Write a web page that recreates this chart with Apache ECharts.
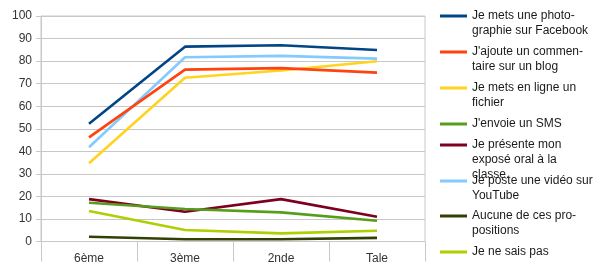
<!DOCTYPE html>
<html><head><meta charset="utf-8">
<script src="https://cdn.jsdelivr.net/npm/echarts@6/dist/echarts.min.js"></script>
<style>html,body{margin:0;padding:0;background:#fff}#c{width:600px;height:276px}</style>
</head><body><div id="c"></div>
<script>
const categories = ['6ème', '3ème', '2nde', 'Tale'];
const seriesNames = [
  'Je mets une photographie sur Facebook',
  'J\'ajoute un commentaire sur un blog',
  'Je mets en ligne un fichier',
  'J\'envoie un SMS',
  'Je présente mon exposé oral à la classe.',
  'Je poste une vidéo sur YouTube',
  'Aucune de ces propositions',
  'Je ne sais pas'
];
const legendLabels = [
  'Je mets une photo-\ngraphie sur Facebook',
  'J\'ajoute un commen-\ntaire sur un blog',
  'Je mets en ligne un\nfichier',
  'J\'envoie un SMS',
  'Je présente mon\nexposé oral à la\nclasse.',
  'Je poste une vidéo sur\nYouTube',
  'Aucune de ces pro-\npositions',
  'Je ne sais pas'
];
const facebook = [52.2, 86.4, 87.0, 84.9];
const blog = [46.2, 76.2, 76.9, 74.9];
const fichier = [34.7, 72.6, 75.8, 79.9];
const sms = [17.2, 14.4, 12.9, 9.2];
const expose = [18.8, 13.2, 18.8, 11.0];
const youtube = [41.8, 81.7, 82.3, 81.1];
const aucune = [2.1, 1.0, 1.0, 1.6];
const neSaisPas = [13.5, 5.1, 3.6, 4.8];
const yTicks = [0, 10, 20, 30, 40, 50, 60, 70, 80, 90, 100];

const values = [facebook, blog, fichier, sms, expose, youtube, aucune, neSaisPas];
const colors = ['#004586', '#ff420e', '#ffd320', '#579d1c', '#7e0021', '#83caff', '#314004', '#aecf00'];
const legendCenters = [16, 52, 88, 124, 145, 181, 216, 252];
const LH = 15;
const FONT = '"Liberation Sans", Arial, sans-serif';

const legends = seriesNames.map((name, i) => {
  const n = legendLabels[i].split('\n').length;
  const text = '\n'.repeat(n - 1) + legendLabels[i];
  return {
    data: [name],
    orient: 'vertical',
    left: 440,
    top: legendCenters[i] - (2 * n - 1) * LH / 2,
    padding: 0,
    itemWidth: 27,
    itemHeight: 3,
    icon: 'rect',
    selectedMode: false,
    formatter: () => text,
    textStyle: {
      fontFamily: FONT, fontSize: 12, color: '#1a1a1a', lineHeight: LH
    }
  };
});

const chart = echarts.init(document.getElementById('c'), null, {renderer: 'canvas'});
chart.setOption({
  animation: false,
  backgroundColor: '#fff',
  color: colors,
  legend: legends,
  grid: {left: 41, right: 175, top: 16, bottom: 34.5, show: true, borderColor: '#c8c8c8', borderWidth: 1, containLabel: false},
  xAxis: {
    type: 'category',
    data: categories,
    boundaryGap: true,
    axisLine: {show: true, lineStyle: {color: '#c8c8c8', width: 1}},
    axisTick: {show: true, length: 20, interval: 0, lineStyle: {color: '#c8c8c8'}},
    axisLabel: {fontFamily: FONT, fontSize: 12, color: '#333', margin: 11, interval: 0}
  },
  yAxis: {
    type: 'value',
    min: yTicks[0],
    max: yTicks[yTicks.length - 1],
    interval: 10,
    axisLine: {show: true, lineStyle: {color: '#c8c8c8', width: 1}},
    axisTick: {show: true, length: 5, lineStyle: {color: '#c8c8c8'}},
    axisLabel: {fontFamily: FONT, fontSize: 12, color: '#333', margin: 9},
    splitLine: {show: true, lineStyle: {color: '#c8c8c8', width: 1}}
  },
  series: seriesNames.map((name, i) => ({
    name: name,
    type: 'line',
    data: values[i],
    showSymbol: false,
    symbol: 'none',
    lineStyle: {width: 2.6, color: colors[i]},
    itemStyle: {color: colors[i]},
    z: 10 - i
  }))
});
</script></body></html>
